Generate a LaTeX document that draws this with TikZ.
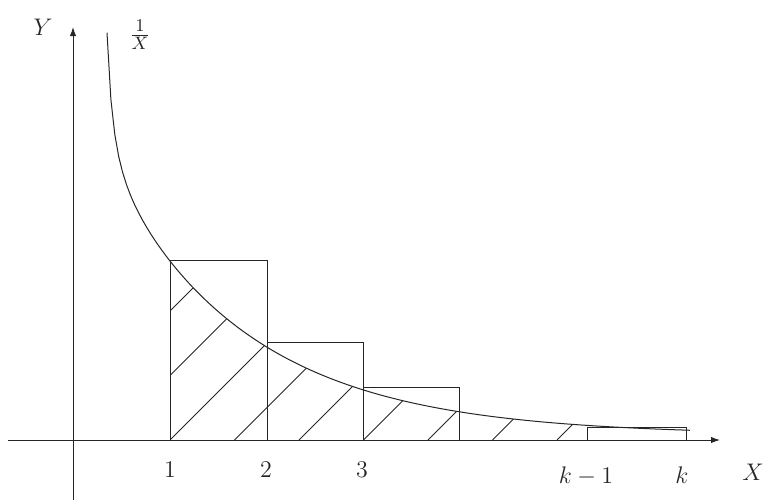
\documentclass[tikz,border=0pt]{standalone}
\usetikzlibrary{arrows.meta}
\begin{document}
\begin{tikzpicture}[x=0.5pt,y=-0.5pt,
  ln/.style={line width=0.5pt, draw=black!85},
  axis/.style={ln, -{Latex[length=4.5pt,width=3.2pt]}},
  lbl/.style={font=\fontsize{13}{15}\selectfont, inner sep=0pt, anchor=base, text=black!85},
  declare function={hh(\t)=170.4*exp(-0.00691*(\t-170))+5+2*(100/(\t-95))^2;}]
\useasboundingbox (0,0) rectangle (766,503);
% axes
\coordinate (xs) at (8,440);
\coordinate (xe) at (720,440);
\coordinate (ys) at (73,500);
\coordinate (ye) at (73,27);
\draw[axis] (xs) -- (xe);
\draw[axis] (ys) -- (ye);
% hatching under the curve
\begin{scope}
  \clip (170,440) -- plot[domain=170:587,samples=60] (\x,{440-hh(\x)}) -- (587,440) -- cycle;
  \foreach \n in {-2,...,6}
    \draw[ln] ({170+64.5*\n},440) -- ++(200,-200);
\end{scope}
% rectangles
\draw[ln] (170,440) rectangle (267,260);
\draw[ln] (267,440) rectangle (363,342);
\draw[ln] (363,440) rectangle (459,387);
\draw[ln] (587,440) rectangle (686,427);
% curve
\draw[ln] plot[domain=107:690,samples=150] (\x,{440-hh(\x)});
% labels
\node[lbl] (ylab) at (43,35) {$Y$};
\node[lbl, anchor=center] (flab) at (140,35) {$\frac{1}{X}$};
\node[lbl] (l1) at (170,477) {$1$};
\node[lbl] (l2) at (266,477) {$2$};
\node[lbl] (l3) at (362,477) {$3$};
\node[lbl] (lk1) at (586,483) {$k-1$};
\node[lbl] (lk) at (682,483) {$k$};
\node[lbl] (xlab) at (753,480) {$X$};
\end{tikzpicture}
\end{document}
